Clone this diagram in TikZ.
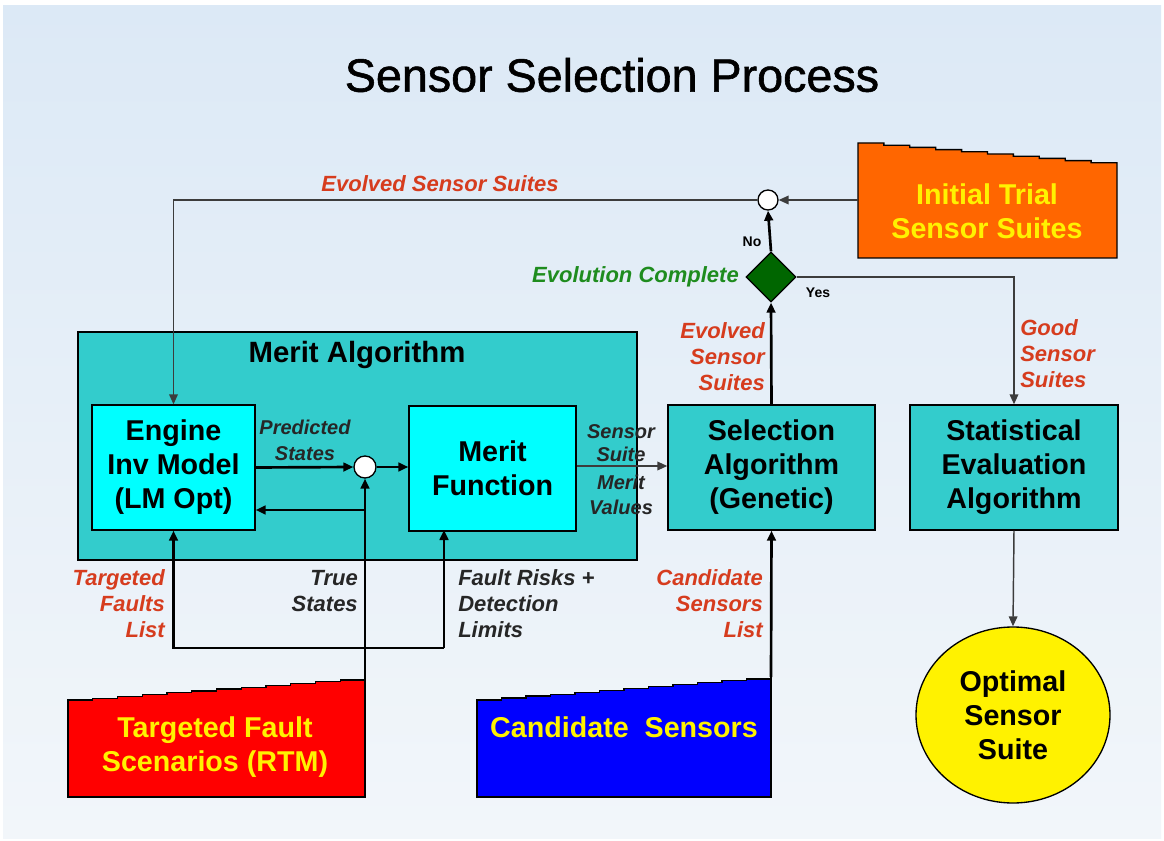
\documentclass[tikz,border=0pt]{standalone}
\usepackage{fontspec}
\setmainfont{Liberation Sans}
\newfontfamily\titlefont[FakeBold=1.2]{Liberation Sans}
\usetikzlibrary{arrows.meta,shapes.geometric,calc}
\definecolor{teal1}{RGB}{51,204,204}
\definecolor{cyan1}{RGB}{0,255,255}
\definecolor{orng}{RGB}{255,102,0}
\definecolor{lblred}{RGB}{214,60,30}
\definecolor{lblgreen}{RGB}{30,140,30}
\definecolor{diagreen}{RGB}{0,102,0}
\definecolor{bgtop}{RGB}{220,233,246}
\definecolor{bgbot}{RGB}{242,246,250}
\definecolor{lgray}{RGB}{60,60,60}
\tikzset{
  boxtxt/.style={font=\bfseries\fontsize{21.5}{25.5}\selectfont, align=center},
  stepbox/.style={draw=black, line width=1pt, boxtxt, inner sep=0pt},
  lbl/.style={font=\bfseries\itshape\fontsize{16.5}{19.5}\selectfont, inner sep=0pt},
  redlbl/.style={lbl, text=lblred},
  blklbl/.style={lbl, text=black!85},
  thickarr/.style={line width=2pt, -{Triangle[length=7.5pt,width=6.5pt]}},
  thinarr/.style={line width=1.1pt, draw=lgray, -{Triangle[length=7.5pt,width=6.5pt]}},
  junc/.style={circle, draw=black, fill=white, line width=1pt, inner sep=0pt},
}
\begin{document}
\begin{tikzpicture}[x=0.75pt,y=-0.75pt]
\useasboundingbox (0,0) rectangle (1164,841);
\fill[white] (0,0) rectangle (1164,841);
\shade[top color=bgtop, bottom color=bgbot] (3,6) rectangle (1161,838);

% title
\node (title) at (612,75) {\titlefont\fontsize{35}{40}\selectfont Sensor Selection Process};

% merit algorithm container
\node[draw=black, line width=1pt, fill=teal1, minimum width=419.25pt, minimum height=171pt, inner sep=0pt] (ma) at (357.5,446) {};
\node[font=\bfseries\fontsize{22}{26}\selectfont] (matitle) at (357,355) {Merit Algorithm};

% boxes
\node[stepbox, fill=cyan1, minimum width=122.25pt, minimum height=93.75pt] (eng) at (173.5,467.5) {Engine\\Inv Model\\(LM Opt)};
\node[stepbox, fill=cyan1, minimum width=125.25pt, minimum height=93.75pt] (mf) at (492.5,468.5) {Merit\\Function};
\node[stepbox, fill=teal1, minimum width=155.25pt, minimum height=93.75pt] (sel) at (771.5,467.5) {Selection\\Algorithm\\(Genetic)};
\node[stepbox, fill=teal1, minimum width=156pt, minimum height=93.75pt] (stat) at (1014,467.5) {Statistical\\Evaluation\\Algorithm};
\node[stepbox, ellipse, fill=yellow, minimum width=145.5pt, minimum height=132pt] (opt) at (1013,715) {Optimal\\Sensor\\Suite};

% junctions and decision
\node[junc, minimum size=16.5pt] (jc) at (365,467) {};
\node[junc, minimum size=15pt] (jtop) at (768,200) {};
\node[diamond, draw=black, line width=1pt, fill=diagreen, minimum width=37.5pt, minimum height=37.5pt, inner sep=0pt] (dia) at (771,277) {};

% stepped source boxes
\draw[fill=orng, line width=1pt] (858,258) -- (858,143) \foreach \i in {1,...,10} {-- ++(25.9,0) -- ++(0,2.2)} -- (1117,258) -- cycle;
\node[boxtxt, text=yellow] (init) at (987,211) {Initial Trial\\Sensor Suites};
\coordinate (initw) at (858,200);

\draw[fill=red, line width=1pt] (68,797) -- (68,700) \foreach \i in {1,...,12} {-- ++(24.75,0) -- ++(0,-1.83)} -- (365,797) -- cycle;
\node[boxtxt, text=yellow] (tfs) at (215,747) {Targeted Fault\\Scenarios (RTM)};
\coordinate (redtr) at (365,678);

\draw[fill=blue, line width=1pt] (477,797) -- (477,700) \foreach \i in {1,...,12} {-- ++(24.5,0) -- ++(0,-1.92)} -- (771,797) -- cycle;
\node[boxtxt, text=yellow] (cs) at (624,727) {Candidate\ \ Sensors};
\coordinate (bluetr) at (771,677);

% connectors
\draw[thinarr] (initw) -- (jtop.east);
\draw[thinarr] (jtop.west) -| (eng.north);
\draw[thickarr] (dia.north) -- (jtop.south);
\draw[thickarr] (sel.north) -- (dia.south);
\draw[thinarr] (dia.east) -| (stat.north);
\draw[thinarr] (stat.south) -- (opt.north);
\draw[thinarr] (mf.east |- 0,466) -- (sel.west |- 0,466);
\draw[thickarr] (eng.east) -- (jc.west);
\draw[thickarr] (jc.east) -- (mf.west |- jc.east);
\draw[thickarr] (redtr) -- (jc.south);
\coordinate (br) at (365,510);
\draw[thickarr] (br) -- (br -| eng.east);
\coordinate (ub) at (444,648);
\coordinate (mfin) at (444,530);
\draw[thickarr] (ub) -| (eng.south);
\draw[thickarr] (ub) -- (mfin);
\draw[thickarr] (bluetr) -- (sel.south);

% labels
\node[redlbl] (l1) at (440,184) {Evolved Sensor Suites};
\node[font=\bfseries\fontsize{10.5}{12}\selectfont, inner sep=0pt] (lno) at (752,242) {No};
\node[font=\bfseries\fontsize{10.5}{12}\selectfont, inner sep=0pt] (lyes) at (818,293) {Yes};
\node[lbl, text=lblgreen, anchor=east] (l2) at (739,277) {Evolution Complete};
\node[redlbl, align=right, anchor=east] (l3) at (765,357) {Evolved\\Sensor\\Suites};
\node[redlbl, align=left, anchor=west] (l4) at (1020,354) {Good\\Sensor\\Suites};
\node[blklbl, align=center, font=\bfseries\itshape\fontsize{15}{19.5}\selectfont] (l5) at (305,440) {Predicted\\States};
\node[blklbl, align=center, font=\bfseries\itshape\fontsize{15}{17.5}\selectfont] (l6) at (621,443) {Sensor\\Suite};
\node[blklbl, align=center, font=\bfseries\itshape\fontsize{15}{18.5}\selectfont] (l7) at (621,495) {Merit\\Values};
\node[redlbl, align=right, anchor=east] (l8) at (165,604) {Targeted\\Faults\\List};
\node[blklbl, align=right, anchor=east] (l9) at (358,591) {True\\States};
\node[blklbl, align=left, anchor=west] (l10) at (458,604) {Fault Risks +\\Detection\\Limits};
\node[redlbl, align=right, anchor=east] (l11) at (763,604) {Candidate\\Sensors\\List};
\end{tikzpicture}
\end{document}
